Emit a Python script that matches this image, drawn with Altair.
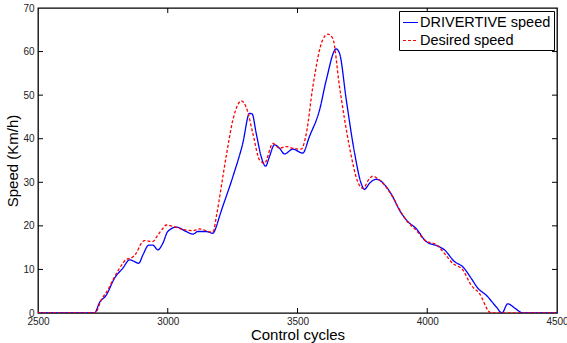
import altair as alt
import pandas as pd

# DRIVERTIVE speed (blue, solid)
drv_x = [2500, 2718, 2737, 2763, 2795, 2827, 2853, 2872, 2888, 2904, 2927, 2942, 2962, 2981,
         3000, 3033, 3071, 3097, 3116, 3148, 3174, 3187, 3199, 3251, 3289, 3315, 3325, 3341,
         3360, 3377, 3392, 3411, 3431, 3450, 3482, 3520, 3546, 3585, 3611, 3649, 3662, 3688,
         3720, 3745, 3758, 3778, 3803, 3842, 3867, 3893, 3925, 3957, 3996, 4047, 4066, 4105,
         4137, 4169, 4195, 4227, 4266, 4288, 4310, 4340, 4368, 4500]
drv_y = [0, 0, 2.4, 4.1, 8.0, 10.3, 12.2, 11.8, 11.4, 13.3, 15.6, 15.6, 14.5, 16.0,
         18.7, 19.7, 18.7, 18.1, 18.7, 18.7, 18.3, 19.8, 22.1, 31.3, 38.9, 45.8, 45.7, 41.2,
         35.9, 33.7, 35.9, 38.6, 37.8, 36.5, 37.6, 36.7, 40.5, 46.6, 53.5, 60.6, 59.6, 48.9,
         36.7, 29.8, 28.4, 29.8, 30.7, 29.0, 26.7, 23.6, 21.0, 19.4, 16.4, 15.2, 14.5, 11.8,
         10.6, 8.0, 5.7, 4.1, 1.4, 0, 2.1, 1.0, 0, 0]

# Desired speed (red, dashed)
des_x = [2500, 2720, 2744, 2769, 2795, 2827, 2840, 2859, 2878, 2898, 2910, 2942, 2962, 2981,
         2994, 3013, 3045, 3071, 3097, 3122, 3148, 3165, 3176, 3187, 3225, 3251, 3270, 3283,
         3302, 3328, 3354, 3373, 3405, 3431, 3456, 3482, 3514, 3534, 3559, 3597, 3617, 3636,
         3662, 3700, 3733, 3752, 3778, 3790, 3816, 3855, 3887, 3919, 3957, 3989, 4041, 4066,
         4098, 4137, 4169, 4201, 4240, 4248, 4500]
des_y = [0, 0, 3.0, 5.3, 8.3, 11.4, 12.3, 12.6, 13.7, 16.0, 16.6, 16.4, 17.9, 19.4,
         20.2, 20.0, 19.4, 19.0, 18.9, 19.3, 18.9, 18.6, 18.8, 22.1, 35.9, 44.3, 47.8, 48.7,
         47.3, 41.2, 35.1, 34.4, 38.9, 37.8, 38.2, 37.8, 37.6, 41.2, 51.9, 62.7, 64.0, 63.0,
         51.9, 38.2, 30.0, 28.6, 30.9, 31.4, 30.5, 27.8, 24.4, 21.3, 19.0, 16.8, 15.4, 13.7,
         11.4, 9.9, 6.4, 4.5, 0.2, 0, 0]

series_names = ["DRIVERTIVE speed", "Desired speed"]
x_tick_values = [2500, 3000, 3500, 4000, 4500]
y_tick_values = [0, 10, 20, 30, 40, 50, 60, 70]
inner_x_ticks = [3000, 3500, 4000]
inner_y_ticks = [10, 20, 30, 40, 50, 60]

W, H = 519, 305
FONT = "Liberation Sans"

df = pd.concat([
    pd.DataFrame({"cycle": drv_x, "speed": drv_y, "series": series_names[0]}),
    pd.DataFrame({"cycle": des_x, "speed": des_y, "series": series_names[1]}),
])

xscale = alt.Scale(domain=[2500, 4500], nice=False, zero=False)
yscale = alt.Scale(domain=[0, 70], nice=False)

legend_opts = dict(title=None, orient="top-right", offset=3, symbolType="stroke",
                   symbolSize=225, symbolStrokeWidth=1.2, labelFontSize=14.5,
                   labelFont=FONT, labelColor="#000000", labelOffset=1,
                   fillColor="white", strokeColor="black", padding=3,
                   rowPadding=3, symbolOffset=0)
color = alt.Color("series:N", scale=alt.Scale(domain=series_names, range=["#0000ff", "#ff0000"]),
                  legend=alt.Legend(**legend_opts))
dash = alt.StrokeDash("series:N", scale=alt.Scale(domain=series_names, range=[[1, 0], [3, 2]]),
                      legend=alt.Legend(**legend_opts))

xenc = alt.X("cycle:Q", scale=xscale,
             axis=alt.Axis(values=x_tick_values, format="d", title="Control cycles", ticks=False,
                           domain=False, grid=False, labelFontSize=10, labelPadding=3,
                           titleFontSize=15, titleFontWeight="normal", titlePadding=1,
                           labelFont=FONT, titleFont=FONT, labelColor="#222222",
                           titleColor="#000000", labelFlush=False))
yenc = alt.Y("speed:Q", scale=yscale,
             axis=alt.Axis(values=y_tick_values, format="d", title="Speed (Km/h)", ticks=False,
                           domain=False, grid=False, labelFontSize=10, labelPadding=4,
                           titleFontSize=15, titleFontWeight="normal", titlePadding=2,
                           labelFont=FONT, titleFont=FONT, labelColor="#222222",
                           titleColor="#000000"))

base = alt.Chart(df)
blue = base.transform_filter(alt.datum.series == series_names[0]).mark_line(
    strokeWidth=1.3, interpolate="monotone", clip=True).encode(x=xenc, y=yenc, color=color, strokeDash=dash)
red = base.transform_filter(alt.datum.series == series_names[1]).mark_line(
    strokeWidth=1.3, interpolate="monotone", clip=True).encode(x=xenc, y=yenc, color=color, strokeDash=dash)

tx = pd.DataFrame({"cycle": inner_x_ticks})
ty = pd.DataFrame({"speed": inner_y_ticks})
TL = 5
bot_ticks = alt.Chart(tx).mark_rule(color="black", strokeWidth=1).encode(
    x=alt.X("cycle:Q", scale=xscale), y=alt.value(H), y2=alt.value(H - TL))
top_ticks = alt.Chart(tx).mark_rule(color="black", strokeWidth=1).encode(
    x=alt.X("cycle:Q", scale=xscale), y=alt.value(0), y2=alt.value(TL))
left_ticks = alt.Chart(ty).mark_rule(color="black", strokeWidth=1).encode(
    y=alt.Y("speed:Q", scale=yscale), x=alt.value(0), x2=alt.value(TL))
right_ticks = alt.Chart(ty).mark_rule(color="black", strokeWidth=1).encode(
    y=alt.Y("speed:Q", scale=yscale), x=alt.value(W), x2=alt.value(W - TL))

chart = alt.layer(blue, red, bot_ticks, top_ticks, left_ticks, right_ticks).properties(
    width=W, height=H,
    autosize=alt.AutoSizeParams(type="none"),
    padding={"left": 38, "top": 8, "right": 10, "bottom": 30},
    background="white",
).configure_view(stroke="black", strokeWidth=1.3).resolve_scale(color="shared", strokeDash="shared")

chart.save("out.html", embed_options={"renderer": "svg", "actions": False})
